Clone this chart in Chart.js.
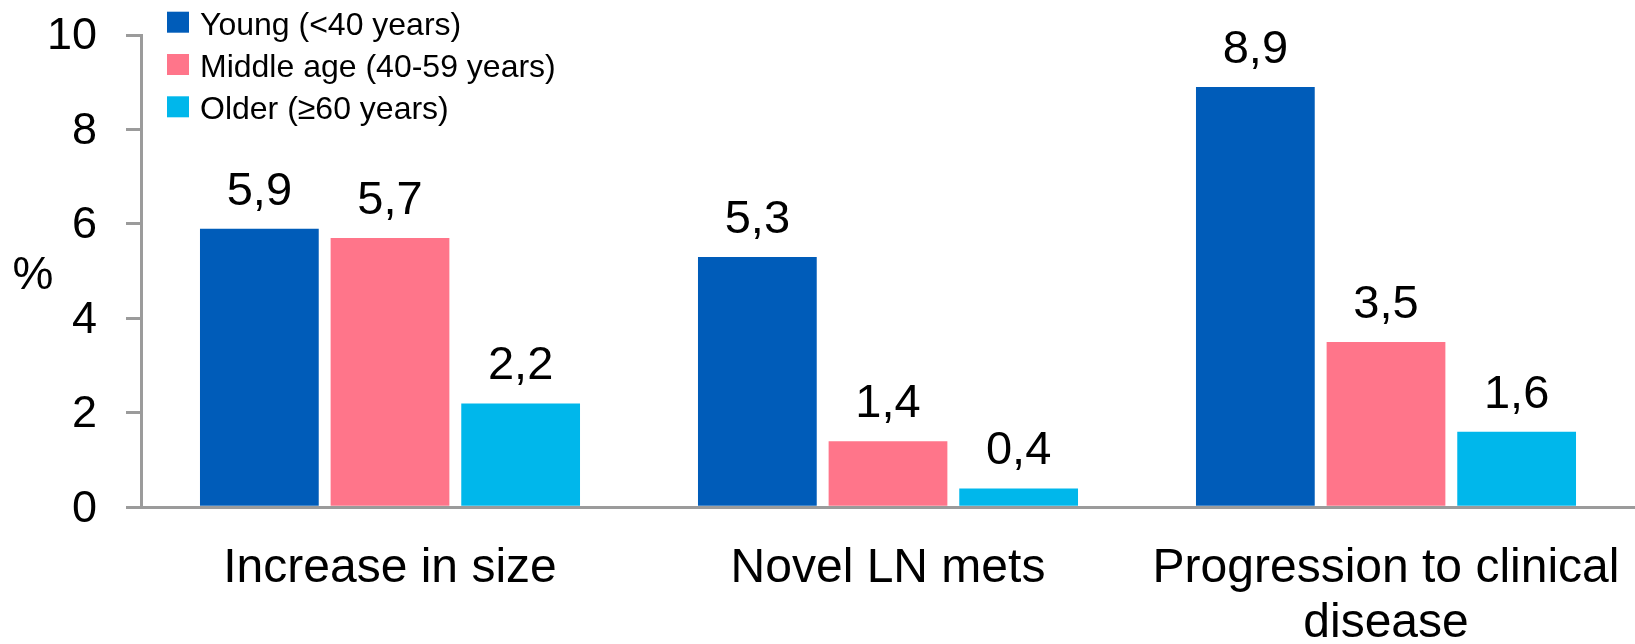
<!DOCTYPE html>
<html>
<head>
<meta charset="utf-8">
<script src="https://cdn.jsdelivr.net/npm/chart.js@4.4.1/dist/chart.umd.min.js"></script>
<style>
  html, body { margin: 0; padding: 0; background: #ffffff; }
  #wrap { width: 1635px; height: 644px; }
</style>
</head>
<body>
<div id="wrap"><canvas id="chart" width="1635" height="644"></canvas></div>
<script>
// Share of patients (%) per outcome, split by age group
const categories = ['Increase in size', 'Novel LN mets', ['Progression to clinical', 'disease']];
const seriesNames = ['Young (<40 years)', 'Middle age (40-59 years)', 'Older (\u226560 years)'];
const young = [5.9, 5.3, 8.9];
const middleAge = [5.7, 1.4, 3.5];
const older = [2.2, 0.4, 1.6];
const yTicks = [0, 2, 4, 6, 8, 10];
const seriesColors = ['#005CB9', '#FF758A', '#00B7EB'];

const FONT = '"Liberation Sans", Arial, Helvetica, sans-serif';
const AXIS_GREY = '#9b9b9b';

// Decimal comma formatting
const fmt = v => v.toFixed(1).replace('.', ',');

// Vertical legend in the top-left corner
const cornerLegend = {
  id: 'cornerLegend',
  afterDraw(chart) {
    const ctx = chart.ctx;
    ctx.save();
    ctx.font = '32px ' + FONT;
    ctx.textBaseline = 'alphabetic';
    ctx.textAlign = 'left';
    chart.data.datasets.forEach((ds, i) => {
      const cy = 22.2 + i * 42.3;
      ctx.fillStyle = ds.backgroundColor;
      ctx.fillRect(167, cy - 10.5, 22, 21);
      ctx.fillStyle = '#000000';
      ctx.fillText(ds.label, 200, cy + 12.5);
    });
    ctx.restore();
  }
};

// Horizontal "%" unit label left of the value axis
const unitLabel = {
  id: 'unitLabel',
  afterDraw(chart) {
    const ctx = chart.ctx;
    const area = chart.chartArea;
    ctx.save();
    ctx.font = '46px ' + FONT;
    ctx.fillStyle = '#000000';
    ctx.textAlign = 'center';
    ctx.textBaseline = 'middle';
    ctx.fillText('%', 33, (area.top + area.bottom) / 2 + 5);
    ctx.restore();
  }
};

// Value printed above each bar
const barValues = {
  id: 'barValues',
  afterDatasetsDraw(chart) {
    const ctx = chart.ctx;
    ctx.save();
    ctx.font = '47px ' + FONT;
    ctx.fillStyle = '#000000';
    ctx.textAlign = 'center';
    ctx.textBaseline = 'alphabetic';
    chart.data.datasets.forEach((ds, di) => {
      const meta = chart.getDatasetMeta(di);
      meta.data.forEach((bar, i) => {
        ctx.fillText(fmt(ds.data[i]), bar.x, bar.y - 24);
      });
    });
    ctx.restore();
  }
};

const seriesData = [young, middleAge, older];

new Chart(document.getElementById('chart'), {
  type: 'bar',
  data: {
    labels: categories,
    datasets: seriesNames.map((name, i) => ({
      label: name,
      data: seriesData[i],
      backgroundColor: seriesColors[i],
      borderWidth: 0,
      categoryPercentage: 0.787,
      barPercentage: 0.909
    }))
  },
  options: {
    responsive: false,
    animation: false,
    devicePixelRatio: 1,
    layout: { padding: { top: 35, right: 0, bottom: 0, left: 0 } },
    plugins: {
      legend: { display: false },
      tooltip: { enabled: false }
    },
    scales: {
      x: {
        grid: { display: false, drawTicks: false },
        border: { display: true, color: AXIS_GREY, width: 3 },
        ticks: {
          color: '#000000',
          padding: 34,
          maxRotation: 0,
          autoSkip: false,
          font: { family: FONT, size: 48, lineHeight: 1.146 }
        },
        afterFit(scale) {
          scale.height = 136.7;
          scale.paddingLeft = 0;
          scale.paddingRight = 0;
        }
      },
      y: {
        min: 0,
        max: 10,
        afterBuildTicks(scale) { scale.ticks = yTicks.map(v => ({ value: v })); },
        grid: {
          display: true,
          drawOnChartArea: false,
          drawTicks: true,
          tickLength: 15,
          color: AXIS_GREY,
          lineWidth: 3
        },
        border: { display: true, color: AXIS_GREY, width: 3 },
        ticks: {
          color: '#000000',
          padding: 29,
          labelOffset: 2,
          font: { family: FONT, size: 45 }
        },
        afterFit(scale) {
          scale.width = 141;
          scale.paddingTop = 0;
          scale.paddingBottom = 0;
        }
      }
    }
  },
  plugins: [barValues, unitLabel, cornerLegend]
});
</script>
</body>
</html>
